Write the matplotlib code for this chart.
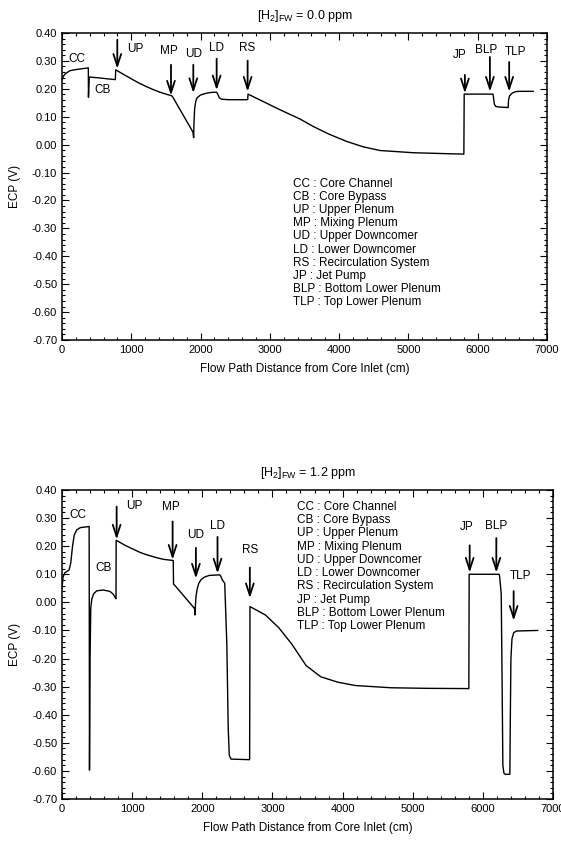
import matplotlib
matplotlib.use("Agg")
import matplotlib.pyplot as plt
from matplotlib.ticker import MultipleLocator, FormatStrFormatter

plt.rcParams['font.family'] = ['Liberation Sans', 'DejaVu Sans']
plt.rcParams['mathtext.fontset'] = 'custom'
plt.rcParams['mathtext.rm'] = 'Liberation Sans'
plt.rcParams['mathtext.it'] = 'Liberation Sans:italic'
plt.rcParams['axes.unicode_minus'] = False

# ---------------- data ----------------
titles = ["[H$_2$]$_\\mathrm{FW}$ = 0.0 ppm", "[H$_2$]$_\\mathrm{FW}$ = 1.2 ppm"]

dist_0ppm = [0, 20, 48, 115, 200, 260, 380,
             382, 392, 500, 650, 770,
             775, 900, 1000, 1100, 1200, 1300, 1400, 1500, 1585,
             1600, 1890, 1900,
             1905, 1915, 1930, 1950, 2000, 2080, 2150, 2230,
             2250, 2270, 2300, 2400, 2680,
             2685, 3146, 3434, 3627, 3850, 4108, 4350, 4589, 5070, 5500, 5800,
             5805, 6220, 6230, 6240, 6260, 6300, 6440,
             6445, 6460, 6500, 6550, 6600, 6800]
ecp_0ppm = [0.233, 0.245, 0.254, 0.265, 0.269, 0.271, 0.275,
            0.170, 0.242, 0.240, 0.236, 0.233,
            0.268, 0.250, 0.236, 0.222, 0.210, 0.199, 0.189, 0.181, 0.175,
            0.170, 0.045, 0.025,
            0.080, 0.130, 0.155, 0.168, 0.178, 0.184, 0.187, 0.188,
            0.180, 0.168, 0.163, 0.161, 0.161,
            0.181, 0.125, 0.092, 0.065, 0.038, 0.0115, -0.008, -0.021, -0.029, -0.032, -0.034,
            0.181, 0.181, 0.165, 0.145, 0.137, 0.135, 0.133,
            0.160, 0.175, 0.185, 0.190, 0.191, 0.191]

dist_12ppm = [0, 15, 40, 100, 125, 150, 175, 210, 260, 387,
              392, 400, 410, 425, 450, 494, 589, 684, 731, 760, 770,
              772, 900, 1000, 1111, 1200, 1349, 1450, 1586,
              1590, 1610, 1890, 1895,
              1900, 1910, 1925, 1950, 1980, 2030, 2100, 2250, 2270, 2285, 2320,
              2350, 2370, 2385, 2410, 2675,
              2680, 2900, 3090, 3280, 3480, 3690, 3930, 4180, 4690, 5190, 5800,
              5805, 6232, 6240, 6262, 6275, 6285, 6300, 6320, 6385,
              6392, 6400, 6415, 6440, 6480, 6780]
ecp_12ppm = [0.050, 0.090, 0.105, 0.115, 0.140, 0.200, 0.240, 0.258, 0.266, 0.270,
             -0.597, -0.200, -0.020, 0.012, 0.030, 0.041, 0.044, 0.039, 0.029, 0.016, 0.013,
             0.221, 0.203, 0.191, 0.178, 0.170, 0.159, 0.153, 0.149,
             0.065, 0.060, -0.022, -0.045,
             -0.020, 0.020, 0.045, 0.068, 0.080, 0.090, 0.096, 0.098, 0.090, 0.080, 0.068,
             -0.150, -0.450, -0.545, -0.558, -0.560,
             -0.015, -0.045, -0.090, -0.150, -0.225, -0.265, -0.284, -0.296, -0.304, -0.306, -0.307,
             0.100, 0.100, 0.090, 0.030, -0.300, -0.580, -0.608, -0.612, -0.612,
             -0.400, -0.200, -0.130, -0.108, -0.102, -0.100]

legend_entries = ["CC : Core Channel", "CB : Core Bypass", "UP : Upper Plenum",
                  "MP : Mixing Plenum", "UD : Upper Downcomer", "LD : Lower Downcomer",
                  "RS : Recirculation System", "JP : Jet Pump",
                  "BLP : Bottom Lower Plenum", "TLP : Top Lower Plenum"]

# arrows: (x, tail, tip) ; labels: (text, x, y)
arrows_0 = [(798, 0.376, 0.272), (1573, 0.286, 0.176), (1895, 0.286, 0.185),
            (2232, 0.308, 0.195), (2679, 0.301, 0.190), (5815, 0.250, 0.184),
            (6176, 0.314, 0.190), (6454, 0.296, 0.190)]
labels_0 = [("CC", 221, 0.307), ("CB", 587, 0.194), ("UP", 1060, 0.343),
            ("MP", 1548, 0.334), ("UD", 1900, 0.326), ("LD", 2232, 0.346),
            ("RS", 2679, 0.346), ("JP", 5743, 0.322), ("BLP", 6128, 0.340),
            ("TLP", 6551, 0.332)]
arrows_12 = [(779, 0.341, 0.224), (1577, 0.288, 0.152), (1909, 0.194, 0.085),
             (2217, 0.233, 0.103), (2678, 0.124, 0.015), (5812, 0.203, 0.106),
             (6192, 0.229, 0.106), (6439, 0.040, -0.065)]
labels_12 = [("CC", 232, 0.312), ("CB", 588, 0.121), ("UP", 1030, 0.344),
             ("MP", 1553, 0.338), ("UD", 1909, 0.241), ("LD", 2217, 0.273),
             ("RS", 2678, 0.185), ("JP", 5764, 0.268), ("BLP", 6192, 0.271),
             ("TLP", 6530, 0.093)]

# ---------------- figure ----------------
W, H = 561, 841
fig = plt.figure(figsize=(W / 100, H / 100), dpi=100)

def px_axes(l, r, t, b):
    return fig.add_axes([l / W, 1 - b / H, (r - l) / W, (b - t) / H])

ax1 = px_axes(62, 547, 33, 340)
ax2 = px_axes(62, 553, 490, 799)

panels = [
    (ax1, dist_0ppm, ecp_0ppm, arrows_0, labels_0, titles[0], 3333, -0.140),
    (ax2, dist_12ppm, ecp_12ppm, arrows_12, labels_12, titles[1], 3348, 0.340),
]

for ax, xs, ys, arrs, labs, title, lx, ly in panels:
    ax.plot(xs, ys, color='black', lw=1.0)
    ax.set_xlim(0, 7000)
    ax.set_ylim(-0.70, 0.40)
    ax.xaxis.set_major_locator(MultipleLocator(1000))
    ax.xaxis.set_minor_locator(MultipleLocator(200))
    ax.yaxis.set_major_locator(MultipleLocator(0.10))
    ax.yaxis.set_minor_locator(MultipleLocator(0.02))
    ax.yaxis.set_major_formatter(FormatStrFormatter('%.2f'))
    ax.tick_params(which='both', direction='in', top=True, right=True,
                   labelsize=8, width=0.8)
    ax.tick_params(which='major', length=5)
    ax.tick_params(which='minor', length=2.5)
    for s in ax.spines.values():
        s.set_linewidth(1.1)
    ax.set_xlabel("Flow Path Distance from Core Inlet (cm)", fontsize=8.5, labelpad=6)
    ax.set_ylabel("ECP (V)", fontsize=8.5, labelpad=8)
    ax.set_title(title, fontsize=9, pad=10)
    for (x, tail, tip) in arrs:
        ax.annotate('', xy=(x, tip), xytext=(x, tail),
                    arrowprops=dict(arrowstyle='->,head_length=0.85,head_width=0.28',
                                    lw=1.3, color='black', shrinkA=0, shrinkB=0))
    for (t, x, y) in labs:
        ax.text(x, y, t, fontsize=8.5, ha='center', va='center')
    for i, entry in enumerate(legend_entries):
        ax.text(lx, ly - i * 0.0472, entry, fontsize=8.5, ha='left', va='center')

fig.savefig("out.png", dpi=100)
